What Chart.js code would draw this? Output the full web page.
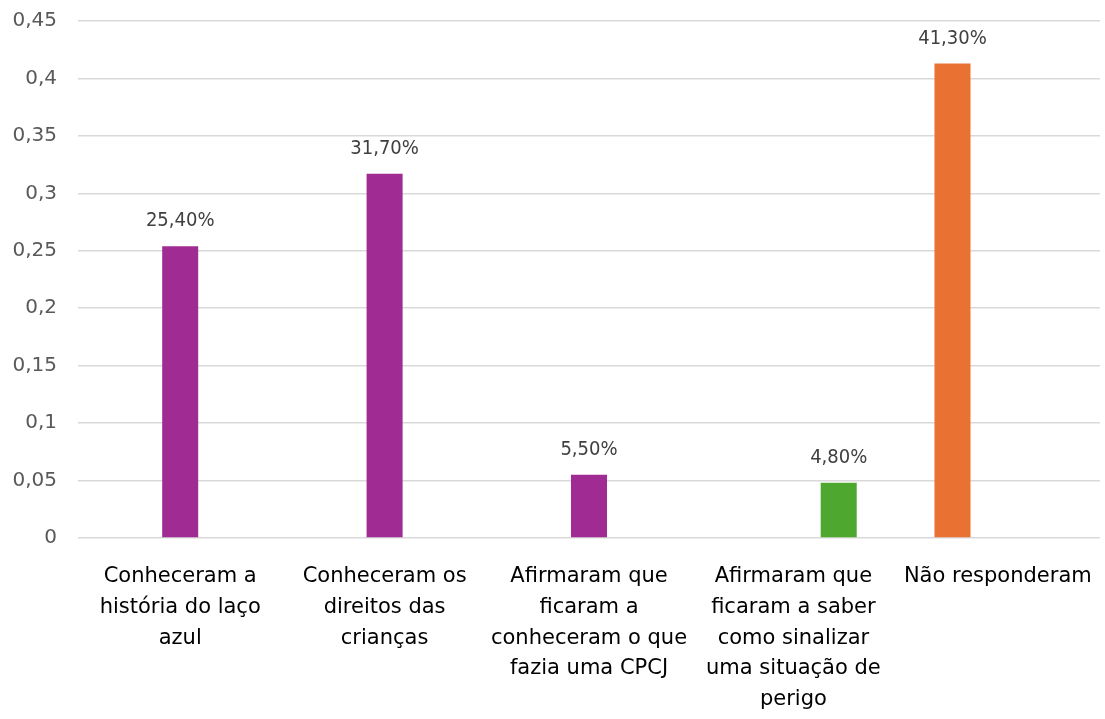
<!DOCTYPE html>
<html>
<head>
<meta charset="utf-8">
<script src="https://cdn.jsdelivr.net/npm/chart.js@4"></script>
<style>
    html, body { margin: 0; padding: 0; background: #fff; }
    #wrap { width: 1105px; height: 719px; }
</style>
</head>
<body>
<div id="wrap"><canvas id="bar-chart" width="1105" height="719"></canvas></div>
<script>
const categories = [
    ["Conheceram a", "história do laço", "azul"],
    ["Conheceram os", "direitos das", "crianças"],
    ["Afirmaram que", "ficaram a", "conheceram o que", "fazia uma CPCJ"],
    ["Afirmaram que", "ficaram a saber", "como sinalizar", "uma situação de", "perigo"],
    ["Não responderam"]
];
const orange_values = [null, null, null, null, 0.413];
const purple_values = [0.254, 0.317, 0.055, null, null];
const green_values = [null, null, null, 0.048, null];
const y_ticks = [0, 0.05, 0.1, 0.15, 0.2, 0.25, 0.3, 0.35, 0.4, 0.45];

const FONT = "'DejaVu Sans', sans-serif";
const FONT_COND = "'DejaVu Sans Condensed', 'DejaVu Sans', sans-serif";

function pctLabel(v) {
    return (v * 100).toFixed(2).replace('.', ',') + '%';
}

// draws the value above each bar
const barLabels = {
    id: 'barLabels',
    afterDatasetsDraw(chart) {
        const ctx = chart.ctx;
        ctx.save();
        ctx.font = "20px " + FONT_COND;
        ctx.fillStyle = '#404040';
        ctx.textAlign = 'center';
        ctx.textBaseline = 'middle';
        chart.data.datasets.forEach(function(ds, i) {
            const meta = chart.getDatasetMeta(i);
            meta.data.forEach(function(bar, j) {
                const v = ds.data[j];
                if (v === null || v === undefined) return;
                ctx.fillText(pctLabel(v), bar.x, bar.y - 25);
            });
        });
        ctx.restore();
    }
};

var chrt = document.getElementById("bar-chart").getContext("2d");
var chartId = new Chart(chrt, {
    type: 'bar',
    data: {
        labels: categories,
        datasets: [
            { data: orange_values, backgroundColor: '#E97132' },
            { data: purple_values, backgroundColor: '#A02B93' },
            { data: green_values, backgroundColor: '#4EA72E' }
        ]
    },
    options: {
        responsive: false,
        animation: false,
        categoryPercentage: 0.665,
        barPercentage: 0.795,
        layout: { padding: { top: 21, right: 5, left: 0, bottom: 0 } },
        plugins: {
            legend: { display: false },
            tooltip: { enabled: false }
        },
        scales: {
            x: {
                grid: { display: false },
                border: { display: false },
                ticks: {
                    color: '#000000',
                    font: { family: FONT, size: 21, lineHeight: 1.47 },
                    padding: 15,
                    maxRotation: 0,
                    minRotation: 0,
                    autoSkip: false
                },
                afterFit: function(scale) {
                    scale.height = 181;
                    scale.paddingLeft = 0;
                    scale.paddingRight = 0;
                }
            },
            y: {
                min: 0,
                max: 0.45,
                afterBuildTicks: function(scale) {
                    scale.ticks = y_ticks.map(function(v) { return { value: v }; });
                },
                grid: { color: '#d9d9d9', lineWidth: 1.5, drawTicks: false },
                border: { display: false },
                ticks: {
                    color: '#595959',
                    font: { family: FONT, size: 20 },
                    padding: 21,
                    callback: function(value) {
                        return Number(value.toFixed(2)).toString().replace('.', ',');
                    }
                },
                afterFit: function(scale) {
                    scale.width = 78;
                    scale.paddingTop = 0;
                    scale.paddingBottom = 0;
                }
            }
        }
    },
    plugins: [barLabels]
});
</script>
</body>
</html>
